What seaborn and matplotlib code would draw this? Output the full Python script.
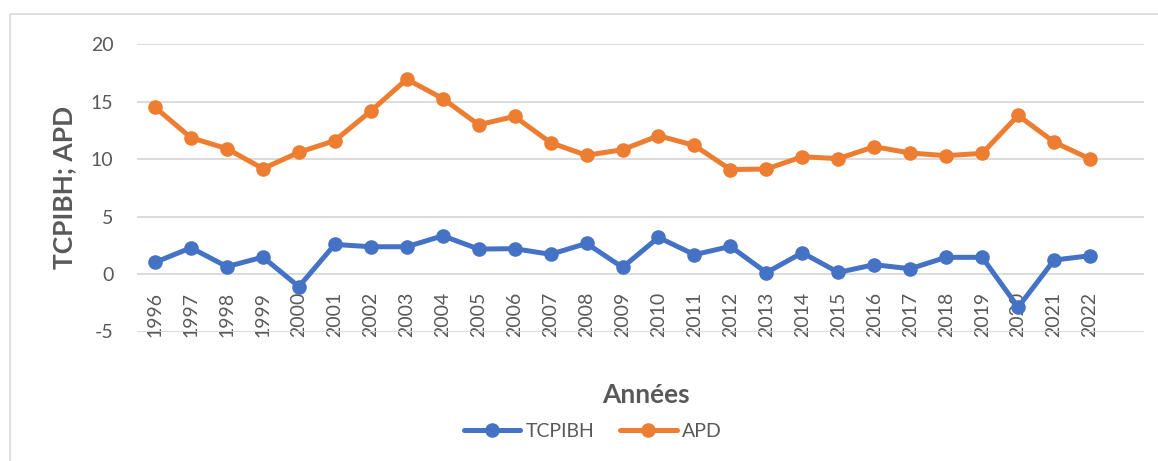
import pandas as pd
import numpy as np
import seaborn as sns
import matplotlib.pyplot as plt
from matplotlib.patches import Rectangle

annees = [1996, 1997, 1998, 1999, 2000, 2001, 2002, 2003, 2004, 2005, 2006, 2007, 2008, 2009,
          2010, 2011, 2012, 2013, 2014, 2015, 2016, 2017, 2018, 2019, 2020, 2021, 2022]
tcpibh = [1.01, 2.28, 0.64, 1.47, -1.1, 2.57, 2.37, 2.37, 3.32, 2.17, 2.2, 1.71, 2.66, 0.58,
          3.18, 1.68, 2.4, 0.12, 1.85, 0.14, 0.81, 0.46, 1.45, 1.45, -2.89, 1.21, 1.59]
apd = [14.5, 11.85, 10.9, 9.16, 10.58, 11.6, 14.16, 16.94, 15.26, 12.98, 13.7, 11.42, 10.32, 10.81,
       12.02, 11.18, 9.08, 9.13, 10.2, 10.03, 11.07, 10.52, 10.29, 10.49, 13.79, 11.47, 10.0]
series = ["TCPIBH", "APD"]
couleurs = ["#4472C4", "#ED7D31"]

df = pd.DataFrame({"annee": annees, "TCPIBH": tcpibh, "APD": apd})
df = df.melt(id_vars="annee", var_name="serie", value_name="valeur")

sns.set_style("white")
plt.rcParams["font.family"] = ["Lato", "DejaVu Sans"]
plt.rcParams["axes.unicode_minus"] = False
gris = "#595959"

fig = plt.figure(figsize=(11.58, 4.61), dpi=100)
ax = fig.add_axes([137/1158, 1-331.5/461, (1144-137)/1158, (331.5-44)/461])

# cadre du graphique
fig.patches.append(Rectangle((10/1158, -0.1), 1.2, 1.1-14/461, transform=fig.transFigure,
                             fill=False, edgecolor="#D9D9D9", linewidth=1.2))

sns.lineplot(data=df, x="annee", y="valeur", hue="serie", hue_order=series,
             palette=couleurs, marker="o", markersize=10.5, markeredgewidth=0,
             linewidth=3.6, ax=ax, legend=False)

ax.set_xlim(1995.5, 2023.5)
ax.set_ylim(-5, 20)
ax.yaxis.grid(True, color="#D9D9D9", linewidth=1.3)
ax.set_axisbelow(True)
for s in ["top", "right", "left"]:
    ax.spines[s].set_visible(False)
ax.spines["bottom"].set_position(("data", 0))
ax.spines["bottom"].set_visible(False)
ax.set_yticks(np.arange(-5, 21, 5))
ax.set_xticks(annees)
ax.set_xticklabels([str(a) for a in annees])
ax.tick_params(axis="x", length=0, pad=13, labelsize=14, labelcolor=gris, labelrotation=90)
ax.tick_params(axis="y", length=0, pad=17, labelsize=14, labelcolor=gris)
ax.set_xlabel("")
ax.set_ylabel("")

fig.text(64/1158, 1-187/461, "TCPIBH; APD", rotation=90, ha="center", va="center",
         fontsize=19, fontweight="bold", color=gris)
fig.text(646/1158, 1-395/461, "Années", ha="center", va="center",
         fontsize=19, fontweight="bold", color=gris)

handles = [plt.Line2D([], [], color=c, linewidth=3.6, marker="o", markersize=10.5,
                      markeredgewidth=0) for c in couleurs]
fig.legend(handles, series, loc="center", bbox_to_anchor=(593/1158, 1-431/461), ncol=2,
           frameon=False, fontsize=14, handlelength=2.9, handletextpad=0.3,
           columnspacing=1.3, labelcolor=gris)

fig.savefig("out.png", dpi=100)
